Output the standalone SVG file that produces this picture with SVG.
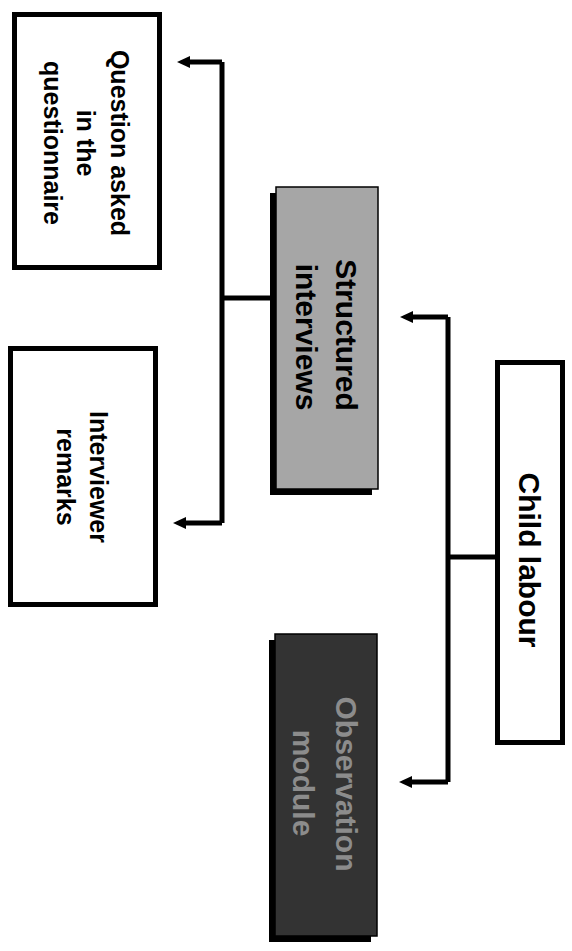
<svg xmlns="http://www.w3.org/2000/svg" width="572" height="951" viewBox="0 0 572 951">
<style>
.box{fill:#fff;stroke:#000;stroke-width:5}
.t{font-family:"Liberation Sans",Arial,sans-serif;font-weight:bold;fill:#000;text-anchor:middle}
.s25{font-size:25px}
.s30{font-size:30px}
.ln{fill:none;stroke:#000;stroke-width:5}
</style>
<defs>
<marker id="ah" markerUnits="userSpaceOnUse" markerWidth="14" markerHeight="14" refX="3" refY="7" orient="auto">
<path d="M0,1 L13,7 L0,13 Z" fill="#000"/>
</marker>
</defs>
<rect width="572" height="951" fill="#fff"/>
<g id="connectors">
<path class="ln" d="M495,557 H448"/>
<path class="ln" d="M448,317 V782"/>
<path class="ln" d="M448,317 H410" marker-end="url(#ah)"/>
<path class="ln" d="M448,782 H409" marker-end="url(#ah)"/>
<path class="ln" d="M272,298 H222"/>
<path class="ln" d="M222,62 V523"/>
<path class="ln" d="M222,62 H187" marker-end="url(#ah)"/>
<path class="ln" d="M222,523 H183" marker-end="url(#ah)"/>
</g>
<g id="child-labour">
<rect class="box" x="497.5" y="362.5" width="65" height="380"/>
<text class="t s30" transform="translate(519,560) rotate(90)">Child labour</text>
</g>
<g id="structured-interviews">
<rect x="270" y="193" width="102" height="302" fill="#000"/>
<rect x="276" y="187" width="102" height="302" fill="#a6a6a6" stroke="#000" stroke-width="1.5"/>
<text class="t s30" transform="translate(336,335) rotate(90)">Structured</text>
<text class="t s30" transform="translate(296,337) rotate(90)">interviews</text>
</g>
<g id="observation-module">
<rect x="269" y="640" width="102" height="302" fill="#000"/>
<rect x="275" y="634" width="102" height="302" fill="#333" stroke="#000" stroke-width="1.5"/>
<text class="t s30" transform="translate(336,784) rotate(90)" style="fill:#8c8c8c">Observation</text>
<text class="t s30" transform="translate(293,783) rotate(90)" style="fill:#8c8c8c">module</text>
</g>
<g id="question-asked">
<rect class="box" x="14.5" y="14.5" width="145" height="253"/>
<text class="t s25" transform="translate(111,143) rotate(90)">Question asked</text>
<text class="t s25" transform="translate(77,143) rotate(90)">in the</text>
<text class="t s25" transform="translate(44,143) rotate(90)">questionnaire</text>
</g>
<g id="interviewer-remarks">
<rect class="box" x="10.5" y="348.5" width="145" height="256"/>
<text class="t s25" transform="translate(90,477) rotate(90)">Interviewer</text>
<text class="t s25" transform="translate(57,477) rotate(90)">remarks</text>
</g>
</svg>
